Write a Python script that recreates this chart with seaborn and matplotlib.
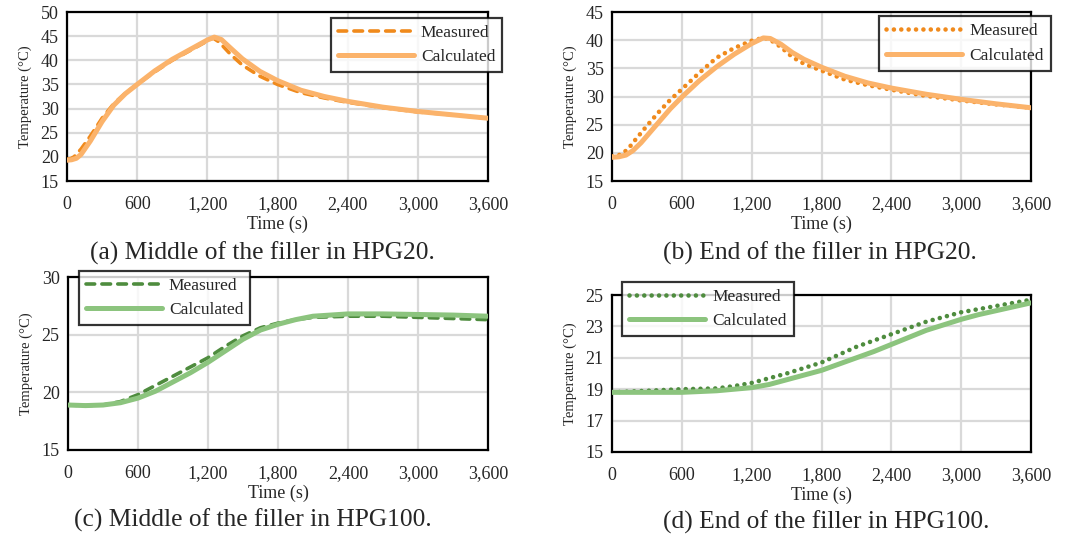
import numpy as np
import pandas as pd
import matplotlib
matplotlib.use('Agg')
import matplotlib.pyplot as plt
import seaborn as sns
from matplotlib.ticker import FuncFormatter, MultipleLocator

# (a) middle of the filler, HPG20
t_a_mea = [0, 30, 60, 120, 200, 300, 400, 500, 600, 750, 900, 1050, 1200, 1250, 1300, 1400, 1500, 1650, 1800, 2000, 2200, 2400, 2700, 3000, 3300, 3600]
y_a_mea = [19.5, 19.6, 20.0, 21.6, 24.3, 28.0, 31.0, 33.2, 35.0, 37.6, 40.0, 42.0, 44.0, 44.6, 43.8, 41.2, 39.0, 36.7, 35.0, 33.3, 32.2, 31.3, 30.2, 29.3, 28.7, 28.0]
t_a_cal = [0, 40, 80, 120, 200, 300, 400, 500, 600, 750, 900, 1050, 1200, 1260, 1320, 1400, 1500, 1650, 1800, 2000, 2200, 2400, 2700, 3000, 3300, 3600]
y_a_cal = [19.3, 19.4, 19.7, 20.5, 23.3, 27.3, 30.7, 33.1, 35.0, 37.8, 40.2, 42.2, 44.2, 44.8, 44.3, 42.5, 40.3, 37.7, 35.8, 33.8, 32.5, 31.5, 30.3, 29.4, 28.7, 28.0]

# (b) end of the filler, HPG20
t_b_mea = [0, 60, 100, 150, 200, 300, 400, 500, 600, 750, 900, 1050, 1200, 1300, 1350, 1450, 1550, 1650, 1800, 2000, 2200, 2400, 2700, 3000, 3300, 3600]
y_b_mea = [19.4, 19.6, 20.0, 21.0, 22.3, 24.8, 27.2, 29.4, 31.3, 34.2, 36.9, 38.6, 39.9, 40.4, 40.2, 38.8, 37.0, 35.8, 34.6, 33.0, 32.0, 31.2, 30.1, 29.3, 28.6, 28.0]
t_b_cal = [0, 60, 120, 180, 250, 300, 400, 500, 600, 750, 900, 1050, 1200, 1300, 1360, 1450, 1550, 1650, 1800, 2000, 2200, 2400, 2700, 3000, 3300, 3600]
y_b_cal = [19.2, 19.3, 19.6, 20.4, 21.8, 23.0, 25.4, 27.8, 29.9, 32.8, 35.3, 37.5, 39.4, 40.4, 40.3, 39.3, 37.8, 36.6, 35.2, 33.6, 32.4, 31.5, 30.4, 29.5, 28.7, 28.0]

# (c) middle of the filler, HPG100
t_c_mea = [0, 150, 300, 450, 600, 750, 900, 1050, 1200, 1350, 1500, 1650, 1800, 1950, 2100, 2400, 2700, 3000, 3300, 3600]
y_c_mea = [18.9, 18.85, 18.9, 19.2, 19.8, 20.6, 21.4, 22.2, 23.0, 24.0, 24.9, 25.6, 26.0, 26.3, 26.5, 26.6, 26.6, 26.5, 26.4, 26.3]
t_c_cal = [0, 150, 300, 450, 600, 750, 900, 1050, 1200, 1350, 1500, 1650, 1800, 1950, 2100, 2400, 2700, 3000, 3300, 3600]
y_c_cal = [18.9, 18.85, 18.9, 19.1, 19.5, 20.1, 20.9, 21.7, 22.6, 23.6, 24.6, 25.4, 25.9, 26.3, 26.6, 26.8, 26.8, 26.75, 26.7, 26.6]

# (d) end of the filler, HPG100
t_d_mea = [0, 300, 600, 900, 1050, 1200, 1350, 1500, 1650, 1800, 1950, 2100, 2250, 2400, 2550, 2700, 2850, 3000, 3150, 3300, 3450, 3600]
y_d_mea = [18.8, 18.9, 19.0, 19.05, 19.2, 19.4, 19.7, 20.0, 20.35, 20.7, 21.2, 21.7, 22.1, 22.5, 22.9, 23.3, 23.6, 23.9, 24.1, 24.3, 24.5, 24.7]
t_d_cal = [0, 300, 600, 900, 1050, 1200, 1350, 1500, 1650, 1800, 1950, 2100, 2250, 2400, 2550, 2700, 2850, 3000, 3150, 3300, 3450, 3600]
y_d_cal = [18.8, 18.8, 18.8, 18.9, 19.0, 19.1, 19.3, 19.6, 19.9, 20.2, 20.6, 21.0, 21.4, 21.85, 22.3, 22.75, 23.1, 23.45, 23.75, 24.0, 24.25, 24.5]

captions = ['(a) Middle of the filler in HPG20.', '(b) End of the filler in HPG20.',
            '(c) Middle of the filler in HPG100.', '(d) End of the filler in HPG100.']

orange_mea, orange_cal = '#F08A1C', '#FBB36B'
green_mea, green_cal = '#4E8C3E', '#8CC47E'

sns.set_style('white')
plt.rcParams['font.family'] = ['Liberation Serif', 'DejaVu Serif']

W, H = 1065, 540
fig = plt.figure(figsize=(W / 100, H / 100), dpi=100)


def box(x0, y0, x1, y1):
    # pixel box -> figure fraction rect
    return [x0 / W, 1 - y1 / H, (x1 - x0) / W, (y1 - y0) / H]


dash = (0, (2.4, 2.0))
dots = (0, (0.01, 1.6))
panels = [
    dict(rect=box(67, 12, 488, 181), ylim=(15, 50), ystep=5,
         mea=(t_a_mea, y_a_mea), cal=(t_a_cal, y_a_cal), cm=orange_mea, cc=orange_cal,
         ls=dash, lw=2.6, leg=(331, 17, 502, 73), cap=(262, 253)),
    dict(rect=box(612, 12, 1031, 181), ylim=(15, 45), ystep=5,
         mea=(t_b_mea, y_b_mea), cal=(t_b_cal, y_b_cal), cm=orange_mea, cc=orange_cal,
         ls=dots, lw=3.3, leg=(884, 18, 1046, 69), cap=(820, 253)),
    dict(rect=box(68, 277, 488, 450), ylim=(15, 30), ystep=5,
         mea=(t_c_mea, y_c_mea), cal=(t_c_cal, y_c_cal), cm=green_mea, cc=green_cal,
         ls=dash, lw=2.6, leg=(81, 274, 248, 322), cap=(253, 520)),
    dict(rect=box(612, 295, 1031, 452), ylim=(15, 25), ystep=2,
         mea=(t_d_mea, y_d_mea), cal=(t_d_cal, y_d_cal), cm=green_mea, cc=green_cal,
         ls=dots, lw=3.3, leg=(624, 284, 792, 334), cap=(826, 522)),
]

for p, cap in zip(panels, captions):
    ax = fig.add_axes(p['rect'])
    dm = pd.DataFrame({'t': p['mea'][0], 'T': p['mea'][1]})
    dc = pd.DataFrame({'t': p['cal'][0], 'T': p['cal'][1]})
    sns.lineplot(data=dm, x='t', y='T', ax=ax, color=p['cm'], lw=p['lw'], label='Measured',
                 zorder=3, solid_capstyle='round')
    sns.lineplot(data=dc, x='t', y='T', ax=ax, color=p['cc'], lw=3.6, label='Calculated',
                 zorder=4, solid_capstyle='round')
    ax.lines[0].set_linestyle(p['ls'])
    ax.lines[0].set_dash_capstyle('round')

    ax.set_xlim(0, 3600)
    ax.set_ylim(*p['ylim'])
    ax.xaxis.set_major_locator(MultipleLocator(600))
    ax.set_yticks(np.arange(p['ylim'][0], p['ylim'][1] + 0.1, p['ystep']))
    ax.xaxis.set_major_formatter(FuncFormatter(lambda v, _: f'{int(v):,}'))
    ax.yaxis.set_major_formatter(FuncFormatter(lambda v, _: f'{int(v)}'))
    ax.grid(True, color='#D9D9D9', lw=1.6)
    ax.set_axisbelow(True)
    for s in ax.spines.values():
        s.set_color('black')
        s.set_linewidth(1.6)
        s.set_visible(True)
    ax.tick_params(axis='both', length=0, labelsize=13)
    ax.tick_params(axis='x', pad=11)
    ax.tick_params(axis='y', pad=6)
    ax.set_xlabel('Time (s)', fontsize=13, labelpad=2)
    ax.set_ylabel('Temperature (°C)', fontsize=10.5, labelpad=6)

    lx0, ly0, lx1, ly1 = p['leg']
    leg = ax.legend(loc='center', bbox_to_anchor=((lx0 + lx1) / 2 / W, 1 - (ly0 + ly1) / 2 / H),
                    bbox_transform=fig.transFigure, frameon=True, fancybox=False,
                    fontsize=12.5, handlelength=4.4, handletextpad=0.4, borderpad=0.4,
                    labelspacing=0.5, borderaxespad=0)
    leg.get_frame().set_edgecolor('black')
    leg.get_frame().set_linewidth(1.6)
    leg.set_zorder(10)

    fig.text(p['cap'][0] / W, 1 - p['cap'][1] / H, cap, ha='center', va='center', fontsize=18.4)

fig.savefig('out.png', dpi=100, facecolor='white')
